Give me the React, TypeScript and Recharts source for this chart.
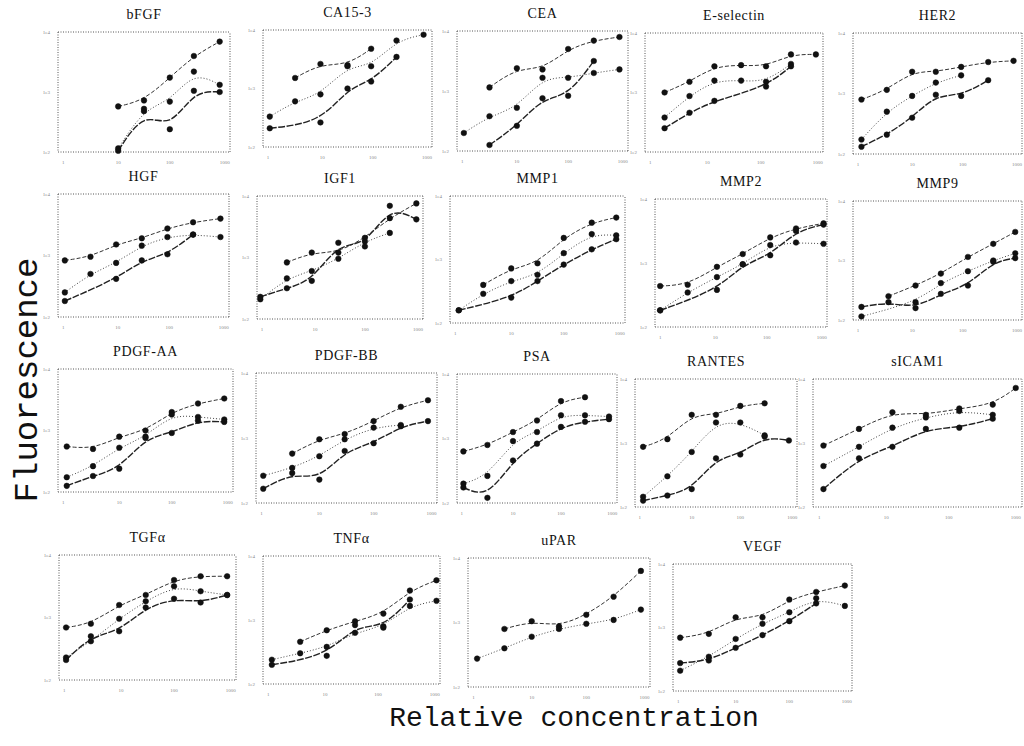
import React from 'react';
import { ComposedChart, Line, XAxis, YAxis, ReferenceLine } from 'recharts';

// ---- data (relative positions within each panel, log scale normalised 0..1) ----
const bfgfX = [0.35, 0.5, 0.65, 0.79, 0.94];
const bfgfTop = [0.38, 0.43, 0.62, 0.8, 0.92];
const bfgfMid = [0.03, 0.36, 0.42, 0.67, 0.56];
const bfgfLow = [0.01, 0.34, 0.19, 0.51, 0.5];

const ca153X = [0.04, 0.19, 0.34, 0.5, 0.64, 0.79, 0.95];
const ca153Top = [null, 0.59, 0.71, 0.7, 0.84, null, null];
const ca153Mid = [0.26, 0.39, 0.45, 0.69, 0.69, 0.91, 0.96];
const ca153Low = [0.16, null, 0.21, 0.5, 0.56, 0.77, null];

const ceaX = [0.04, 0.19, 0.35, 0.5, 0.65, 0.8, 0.95];
const ceaTop = [null, 0.53, 0.69, 0.68, 0.85, 0.92, 0.95];
const ceaMid = [0.15, 0.29, 0.36, 0.61, 0.61, 0.65, 0.68];
const ceaLow = [null, 0.05, 0.21, 0.44, 0.46, 0.75, null];

const eselX = [0.11, 0.25, 0.39, 0.54, 0.68, 0.82, 0.96];
const eselTop = [0.5, 0.59, 0.72, 0.73, 0.72, 0.82, 0.82];
const eselMid = [0.29, 0.47, 0.6, 0.6, 0.59, 0.74, null];
const eselLow = [0.2, 0.33, 0.43, null, 0.55, 0.72, null];

const her2X = [0.05, 0.2, 0.35, 0.49, 0.64, 0.8, 0.95];
const her2Top = [0.45, 0.53, 0.68, 0.68, 0.72, 0.76, 0.77];
const her2Mid = [0.12, 0.35, 0.48, 0.59, 0.65, null, null];
const her2Low = [0.06, 0.16, 0.3, 0.49, 0.48, 0.61, null];

const hgfX = [0.04, 0.19, 0.34, 0.49, 0.64, 0.79, 0.95];
const hgfTop = [0.46, 0.49, 0.59, 0.64, 0.72, 0.77, 0.8];
const hgfMid = [0.2, 0.35, 0.44, 0.58, 0.65, 0.67, 0.65];
const hgfLow = [0.13, null, 0.31, 0.46, 0.51, 0.67, null];

const igf1X = [0.02, 0.18, 0.33, 0.49, 0.65, 0.8, 0.96];
const igf1Top = [null, 0.46, 0.54, 0.54, 0.66, 0.82, 0.94];
const igf1Mid = [0.16, 0.33, 0.39, 0.49, 0.63, 0.7, null];
const igf1Low = [0.18, 0.25, 0.31, 0.62, 0.59, 0.92, 0.81];

const mmp1X = [0.05, 0.19, 0.35, 0.5, 0.65, 0.81, 0.95];
const mmp1Top = [null, 0.3, 0.43, 0.47, 0.67, 0.79, 0.83];
const mmp1Mid = [0.1, 0.23, 0.33, 0.38, 0.55, 0.7, 0.69];
const mmp1Low = [0.1, null, 0.2, 0.33, 0.46, 0.58, 0.66];

const mmp2X = [0.03, 0.19, 0.36, 0.51, 0.67, 0.82, 0.98];
const mmp2Top = [0.32, 0.33, 0.47, 0.57, 0.7, 0.77, 0.81];
const mmp2Mid = [0.13, 0.27, 0.39, 0.49, 0.64, 0.66, 0.65];
const mmp2Low = [0.13, null, 0.29, 0.49, 0.56, 0.75, 0.8];

const mmp9X = [0.05, 0.21, 0.37, 0.52, 0.68, 0.83, 0.96];
const mmp9Top = [null, 0.2, 0.29, 0.39, 0.53, 0.64, 0.74];
const mmp9Mid = [0.03, null, 0.15, 0.31, 0.41, 0.5, 0.56];
const mmp9Low = [0.11, 0.15, 0.1, 0.22, 0.29, 0.49, 0.52];

const pdgfaaX = [0.05, 0.2, 0.35, 0.5, 0.65, 0.8, 0.95];
const pdgfaaTop = [0.37, 0.35, 0.45, 0.5, 0.65, 0.72, 0.76];
const pdgfaaMid = [0.12, 0.21, 0.36, 0.45, 0.63, 0.61, 0.59];
const pdgfaaLow = [0.05, 0.13, 0.19, 0.44, 0.48, 0.58, 0.57];

const pdgfbbX = [0.04, 0.2, 0.35, 0.49, 0.65, 0.8, 0.95];
const pdgfbbTop = [null, 0.38, 0.49, 0.53, 0.63, 0.74, 0.79];
const pdgfbbMid = [0.21, 0.27, 0.36, 0.49, 0.58, 0.6, null];
const pdgfbbLow = [0.11, 0.23, 0.18, 0.4, 0.46, 0.59, 0.63];

const psaX = [0.04, 0.19, 0.35, 0.5, 0.65, 0.8, 0.95];
const psaTop = [0.4, 0.45, 0.55, 0.64, 0.79, 0.82, null];
const psaMid = [0.15, 0.21, 0.48, 0.55, 0.68, 0.68, 0.67];
const psaLow = [0.12, 0.04, 0.33, 0.46, 0.59, 0.63, 0.65];

const rantesX = [0.05, 0.2, 0.35, 0.5, 0.65, 0.8, 0.95];
const rantesTop = [0.47, 0.53, 0.72, 0.72, 0.79, 0.81, null];
const rantesMid = [0.08, 0.24, 0.43, 0.66, 0.66, 0.56, null];
const rantesLow = [0.05, 0.09, 0.14, 0.38, 0.41, 0.55, 0.52];

const sicamX = [0.05, 0.22, 0.38, 0.54, 0.7, 0.86, 0.97];
const sicamTop = [0.48, 0.61, 0.74, 0.72, 0.77, 0.8, 0.93];
const sicamMid = [0.32, 0.47, 0.62, 0.7, 0.75, 0.72, null];
const sicamLow = [0.14, 0.38, 0.47, 0.61, 0.62, 0.69, null];

const tgfaX = [0.04, 0.18, 0.34, 0.49, 0.65, 0.8, 0.95];
const tgfaTop = [0.42, 0.45, 0.6, 0.68, 0.8, 0.83, 0.83];
const tgfaMid = [0.18, 0.31, 0.49, 0.63, 0.75, 0.71, 0.68];
const tgfaLow = [0.16, 0.35, 0.39, 0.58, 0.65, 0.62, 0.68];

const tnfaX = [0.05, 0.21, 0.36, 0.52, 0.68, 0.83, 0.98];
const tnfaTop = [null, 0.33, 0.42, 0.49, 0.55, 0.73, 0.81];
const tnfaMid = [0.19, 0.24, 0.29, 0.4, 0.45, 0.61, 0.65];
const tnfaLow = [0.15, null, 0.22, 0.46, 0.44, 0.66, null];

const uparX = [0.05, 0.2, 0.35, 0.5, 0.65, 0.8, 0.95];
const uparTop = [null, 0.45, 0.51, 0.47, 0.56, 0.7, 0.9];
const uparMid = [0.22, 0.3, 0.39, 0.45, 0.49, 0.52, 0.6];
const uparLow: (number | null)[] = [];

const vegfX = [0.04, 0.2, 0.35, 0.5, 0.65, 0.8, 0.96];
const vegfTop = [0.42, 0.45, 0.58, 0.58, 0.72, 0.78, 0.83];
const vegfMid = [0.16, 0.27, 0.41, 0.53, 0.62, 0.73, 0.67];
const vegfLow = [0.22, 0.24, 0.34, 0.44, 0.55, 0.69, null];

const xTickValues = [0.03, 0.35, 0.65, 0.97];
const xTickLabels = ['1', '10', '100', '1000'];
const yTickValues = [0, 0.5, 1];
const yTickLabels = ['1e2', '1e3', '1e4'];

const panelNames = [
  'bFGF', 'CA15-3', 'CEA', 'E-selectin', 'HER2',
  'HGF', 'IGF1', 'MMP1', 'MMP2', 'MMP9',
  'PDGF-AA', 'PDGF-BB', 'PSA', 'RANTES', 'sICAM1',
  'TGF\u03b1', 'TNF\u03b1', 'uPAR', 'VEGF',
];

const panelSeries = [
  [bfgfX, bfgfTop, bfgfMid, bfgfLow],
  [ca153X, ca153Top, ca153Mid, ca153Low],
  [ceaX, ceaTop, ceaMid, ceaLow],
  [eselX, eselTop, eselMid, eselLow],
  [her2X, her2Top, her2Mid, her2Low],
  [hgfX, hgfTop, hgfMid, hgfLow],
  [igf1X, igf1Top, igf1Mid, igf1Low],
  [mmp1X, mmp1Top, mmp1Mid, mmp1Low],
  [mmp2X, mmp2Top, mmp2Mid, mmp2Low],
  [mmp9X, mmp9Top, mmp9Mid, mmp9Low],
  [pdgfaaX, pdgfaaTop, pdgfaaMid, pdgfaaLow],
  [pdgfbbX, pdgfbbTop, pdgfbbMid, pdgfbbLow],
  [psaX, psaTop, psaMid, psaLow],
  [rantesX, rantesTop, rantesMid, rantesLow],
  [sicamX, sicamTop, sicamMid, sicamLow],
  [tgfaX, tgfaTop, tgfaMid, tgfaLow],
  [tnfaX, tnfaTop, tnfaMid, tnfaLow],
  [uparX, uparTop, uparMid, uparLow],
  [vegfX, vegfTop, vegfMid, vegfLow],
];

// ---- layout (plot-box x0, y0, x1, y1 in page pixels) ----
const panelBoxes = [
  [58, 32, 230, 152], [263, 30, 432, 147], [457, 31, 628, 151], [645, 33, 823, 152], [853, 33, 1022, 154],
  [58, 194, 229, 317], [257, 196, 423, 319], [450, 196, 625, 323], [655, 199, 827, 327], [853, 201, 1022, 320],
  [58, 369, 233, 492], [256, 373, 437, 503], [457, 374, 617, 503], [635, 379, 797, 507], [813, 379, 1022, 507],
  [59, 555, 236, 680], [263, 556, 440, 684], [468, 558, 650, 687], [673, 564, 852, 691],
];

const seriesStyles = [
  { dash: '4 2', width: 1, color: '#333' },
  { dash: '1 2', width: 1, color: '#444' },
  { dash: '7 1.5', width: 1.4, color: '#222' },
];

const YW = 16;
const XH = 12;
const axisStroke = '#555';

function toPoints(xs: number[], ys: (number | null)[]) {
  const out: { x: number; y: number }[] = [];
  xs.forEach((x, i) => {
    const v = ys[i];
    if (v !== null && v !== undefined) out.push({ x, y: v });
  });
  return out;
}

function Panel({ title, series, box }: { title: string; series: any[]; box: number[] }) {
  const [x0, y0, x1, y1] = box;
  const w = x1 - x0;
  const h = y1 - y0;
  const xs = series[0] as number[];
  const lines = [series[1], series[2], series[3]].map((ys) => toPoints(xs, ys));
  return (
    <>
      <div
        style={{
          position: 'absolute',
          left: x0,
          width: w,
          top: y0 - 25,
          textAlign: 'center',
          fontFamily: '"Liberation Serif", serif',
          fontSize: 14,
          letterSpacing: 0.6,
          lineHeight: '16px',
          color: '#111',
        }}
      >
        {title}
      </div>
      <div style={{ position: 'absolute', left: x0 - YW, top: y0 - 2 }}>
        <ComposedChart
          width={w + YW + 3}
          height={h + 2 + XH}
          margin={{ top: 2, right: 3, left: 0, bottom: 0 }}
        >
          <XAxis
            type="number"
            dataKey="x"
            domain={[0, 1]}
            ticks={xTickValues}
            tickFormatter={(v: number) => xTickLabels[xTickValues.indexOf(v)] ?? ''}
            height={XH}
            tick={{ fontSize: 5, fill: '#888' }}
            tickLine={false}
            axisLine={{ stroke: axisStroke, strokeDasharray: '1 1.5' }}
            tickMargin={2}
          />
          <YAxis
            type="number"
            dataKey="y"
            domain={[0, 1]}
            ticks={yTickValues}
            tickFormatter={(v: number) => yTickLabels[yTickValues.indexOf(v)] ?? ''}
            width={YW}
            tick={{ fontSize: 5, fill: '#888' }}
            tickLine={false}
            axisLine={{ stroke: axisStroke, strokeDasharray: '1 1.5' }}
            tickMargin={2}
          />
          <ReferenceLine y={1} stroke={axisStroke} strokeDasharray="1 1.5" />
          <ReferenceLine x={1} stroke={axisStroke} strokeDasharray="1 1.5" />
          {lines.map((pts, i) =>
            pts.length ? (
              <Line
                key={i}
                data={pts}
                dataKey="y"
                type="basis"
                stroke={seriesStyles[i].color}
                strokeWidth={seriesStyles[i].width}
                strokeDasharray={seriesStyles[i].dash}
                dot={{ r: 2.8, fill: '#111', stroke: '#111', strokeWidth: 0.5, strokeDasharray: '' }}
                isAnimationActive={false}
              />
            ) : null
          )}
        </ComposedChart>
      </div>
    </>
  );
}

export default function App() {
  return (
    <div
      style={{
        position: 'absolute',
        left: 0,
        top: 0,
        width: 1024,
        height: 746,
        background: '#fff',
        overflow: 'hidden',
      }}
    >
      {panelNames.map((name, i) => (
        <Panel key={name} title={name} series={panelSeries[i]} box={panelBoxes[i]} />
      ))}
      <div
        style={{
          position: 'absolute',
          left: 28,
          top: 380,
          transform: 'translate(-50%, -50%) rotate(-90deg)',
          fontFamily: '"Liberation Mono", monospace',
          fontSize: 34,
          lineHeight: '34px',
          color: '#111',
          whiteSpace: 'nowrap',
        }}
      >
        Fluorescence
      </div>
      <div
        style={{
          position: 'absolute',
          left: 574,
          top: 719,
          transform: 'translate(-50%, -50%)',
          fontFamily: '"Liberation Mono", monospace',
          fontSize: 28,
          lineHeight: '26px',
          color: '#111',
          whiteSpace: 'nowrap',
        }}
      >
        Relative concentration
      </div>
    </div>
  );
}
